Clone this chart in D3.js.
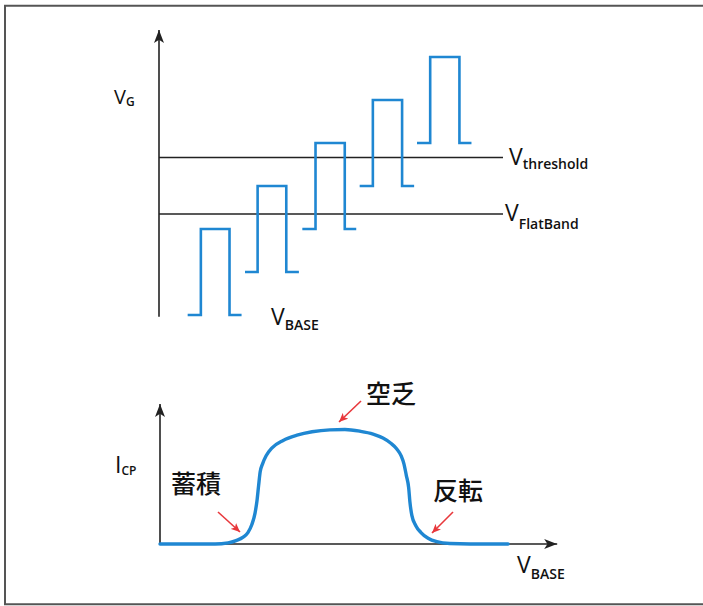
<!DOCTYPE html>
<html>
<head>
<meta charset="utf-8">
<script src="https://cdn.jsdelivr.net/npm/d3@7"></script>
<style>
  body { margin: 0; background: #fff; }
  svg text { font-family: "Open Sans", "Liberation Sans", sans-serif; fill: #111; }
  .cjk { font-family: "Noto Sans CJK JP", "Noto Sans CJK SC", sans-serif; }
</style>
</head>
<body>
<svg id="chart" width="703" height="606"></svg>
<script>
// top panel: gate pulses (x in time units, y in V_G units)
const pulseStart = [5, 15, 25, 35, 45];
const pulseRise  = [7.3, 17.2, 27.3, 37.3, 47.3];
const pulseFall  = [12.3, 22.2, 32.4, 42.4, 52.4];
const pulseEnd   = [14.4, 24.4, 34.4, 44.5, 54.5];
const pulseBase  = [0, 1, 2, 3, 4];
const pulseTop   = [2, 3, 4, 5, 6];
const levelNames = ['threshold', 'FlatBand'];
const levelValues = [3.66, 2.35];

// bottom panel: charge pumping current vs V_BASE
const icpX = [0, 13.9, 17.2, 19.2, 21.0, 22.2, 23.2, 24.0, 24.5, 24.9, 25.3, 25.9, 26.8, 28.3, 31.1, 34.6, 38.4, 42.9,
              46.7, 50.5, 53.8, 56.3, 58.3, 59.8, 60.9, 61.6, 62.2, 62.8, 63.1, 63.6, 64.6, 65.9, 67.7, 69.9, 73.2, 78.3, 87.9];
const icpY = [0, 0, 0.01, 0.03, 0.06, 0.10, 0.17, 0.27, 0.38, 0.51, 0.63, 0.70, 0.77, 0.84, 0.905, 0.95, 0.98, 0.997,
              1.0, 0.985, 0.96, 0.925, 0.88, 0.83, 0.77, 0.70, 0.60, 0.49, 0.37, 0.25, 0.16, 0.10, 0.05, 0.02, 0.004, 0, 0];
const regionNames = ['蓄積', '空乏', '反転'];

const blue = '#1f87d2';
const red = '#e8383c';
const svg = d3.select('#chart');

// frame (top, left, bottom)
svg.append('path')
    .attr('d', 'M703,5.7 H5 V604.3 H703')
    .attr('fill', 'none')
    .attr('stroke', '#555')
    .attr('stroke-width', 2);

const defs = svg.append('defs');
function marker(id, color, w, h) {
    defs.append('marker')
        .attr('id', id)
        .attr('viewBox', `0 0 ${w} ${h}`)
        .attr('refX', w).attr('refY', h / 2)
        .attr('markerWidth', w).attr('markerHeight', h)
        .attr('markerUnits', 'userSpaceOnUse')
        .attr('orient', 'auto')
        .append('path')
        .attr('d', `M0,0 L${w},${h / 2} L0,${h} L${w * 0.25},${h / 2} Z`)
        .attr('fill', color);
}
marker('axisArrow', '#222', 13, 10);
marker('redArrow', red, 9, 8);

// ---------- top panel ----------
const xTop = d3.scaleLinear().domain([0, 60]).range([159, 503]);
const yTop = d3.scaleLinear().domain([0, 6]).range([315, 57]);

svg.append('line')
    .attr('x1', xTop(0)).attr('y1', yTop(-0.04))
    .attr('x2', xTop(0)).attr('y2', yTop(6.63))
    .attr('stroke', '#222').attr('stroke-width', 1.6)
    .attr('marker-end', 'url(#axisArrow)');

svg.selectAll('line.level')
    .data(levelValues)
    .enter()
    .append('line')
    .attr('class', 'level')
    .attr('x1', xTop(0)).attr('x2', xTop(60))
    .attr('y1', d => yTop(d)).attr('y2', d => yTop(d))
    .attr('stroke', '#222').attr('stroke-width', 1.5);

const pulses = pulseStart.map((s, i) => [
    [s, pulseBase[i]], [pulseRise[i], pulseBase[i]], [pulseRise[i], pulseTop[i]],
    [pulseFall[i], pulseTop[i]], [pulseFall[i], pulseBase[i]], [pulseEnd[i], pulseBase[i]]
]);
const pulseLine = d3.line().x(d => xTop(d[0])).y(d => yTop(d[1]));
svg.selectAll('path.pulse')
    .data(pulses)
    .enter()
    .append('path')
    .attr('class', 'pulse')
    .attr('d', pulseLine)
    .attr('fill', 'none')
    .attr('stroke', blue)
    .attr('stroke-width', 2.6);

function label(x, y, main, sub, size, subSize, dy) {
    const t = svg.append('text').attr('x', x).attr('y', y).attr('font-size', size);
    t.append('tspan').text(main);
    t.append('tspan').attr('dy', dy).attr('font-size', subSize).attr('font-weight', 600).text(sub);
    return t;
}

label(114, 104, 'V', 'G', 20, 12, 2);
label(509, 165, 'V', levelNames[0], 23, 14, 4);
label(505, 221, 'V', levelNames[1], 23, 14, 8);
label(271, 325, 'V', 'BASE', 23, 14, 5);

// ---------- bottom panel ----------
const xBot = d3.scaleLinear().domain([0, 100]).range([160, 556]);
const yBot = d3.scaleLinear().domain([0, 1]).range([544, 429.5]);

svg.append('line')
    .attr('x1', xBot(0)).attr('y1', yBot(0))
    .attr('x2', xBot(0)).attr('y2', 404)
    .attr('stroke', '#222').attr('stroke-width', 1.6)
    .attr('marker-end', 'url(#axisArrow)');
svg.append('line')
    .attr('x1', xBot(0)).attr('y1', yBot(0))
    .attr('x2', xBot(100.3)).attr('y2', yBot(0))
    .attr('stroke', '#222').attr('stroke-width', 1.6)
    .attr('marker-end', 'url(#axisArrow)');

const icp = icpX.map((x, i) => [x, icpY[i]]);
svg.append('path')
    .datum(icp)
    .attr('d', d3.line().x(d => xBot(d[0])).y(d => yBot(d[1])).curve(d3.curveMonotoneX))
    .attr('fill', 'none')
    .attr('stroke', blue)
    .attr('stroke-width', 3.4)
    .attr('stroke-linecap', 'round');

label(115, 473, 'I', 'CP', 23, 12, 2);
label(517, 573, 'V', 'BASE', 23, 14, 6);

// region labels with red arrows
const regionText = [[171, 493], [366, 403], [433, 500]];
const regionArrows = [[218, 512, 240, 532], [361, 401, 339, 422], [453, 512, 432, 533]];
regionNames.forEach((name, i) => {
    svg.append('text')
        .attr('class', 'cjk')
        .attr('x', regionText[i][0]).attr('y', regionText[i][1])
        .attr('font-size', 25)
        .attr('font-weight', 500)
        .text(name);
    const a = regionArrows[i];
    svg.append('line')
        .attr('x1', a[0]).attr('y1', a[1]).attr('x2', a[2]).attr('y2', a[3])
        .attr('stroke', red).attr('stroke-width', 1.6)
        .attr('marker-end', 'url(#redArrow)');
});
</script>
</body>
</html>
